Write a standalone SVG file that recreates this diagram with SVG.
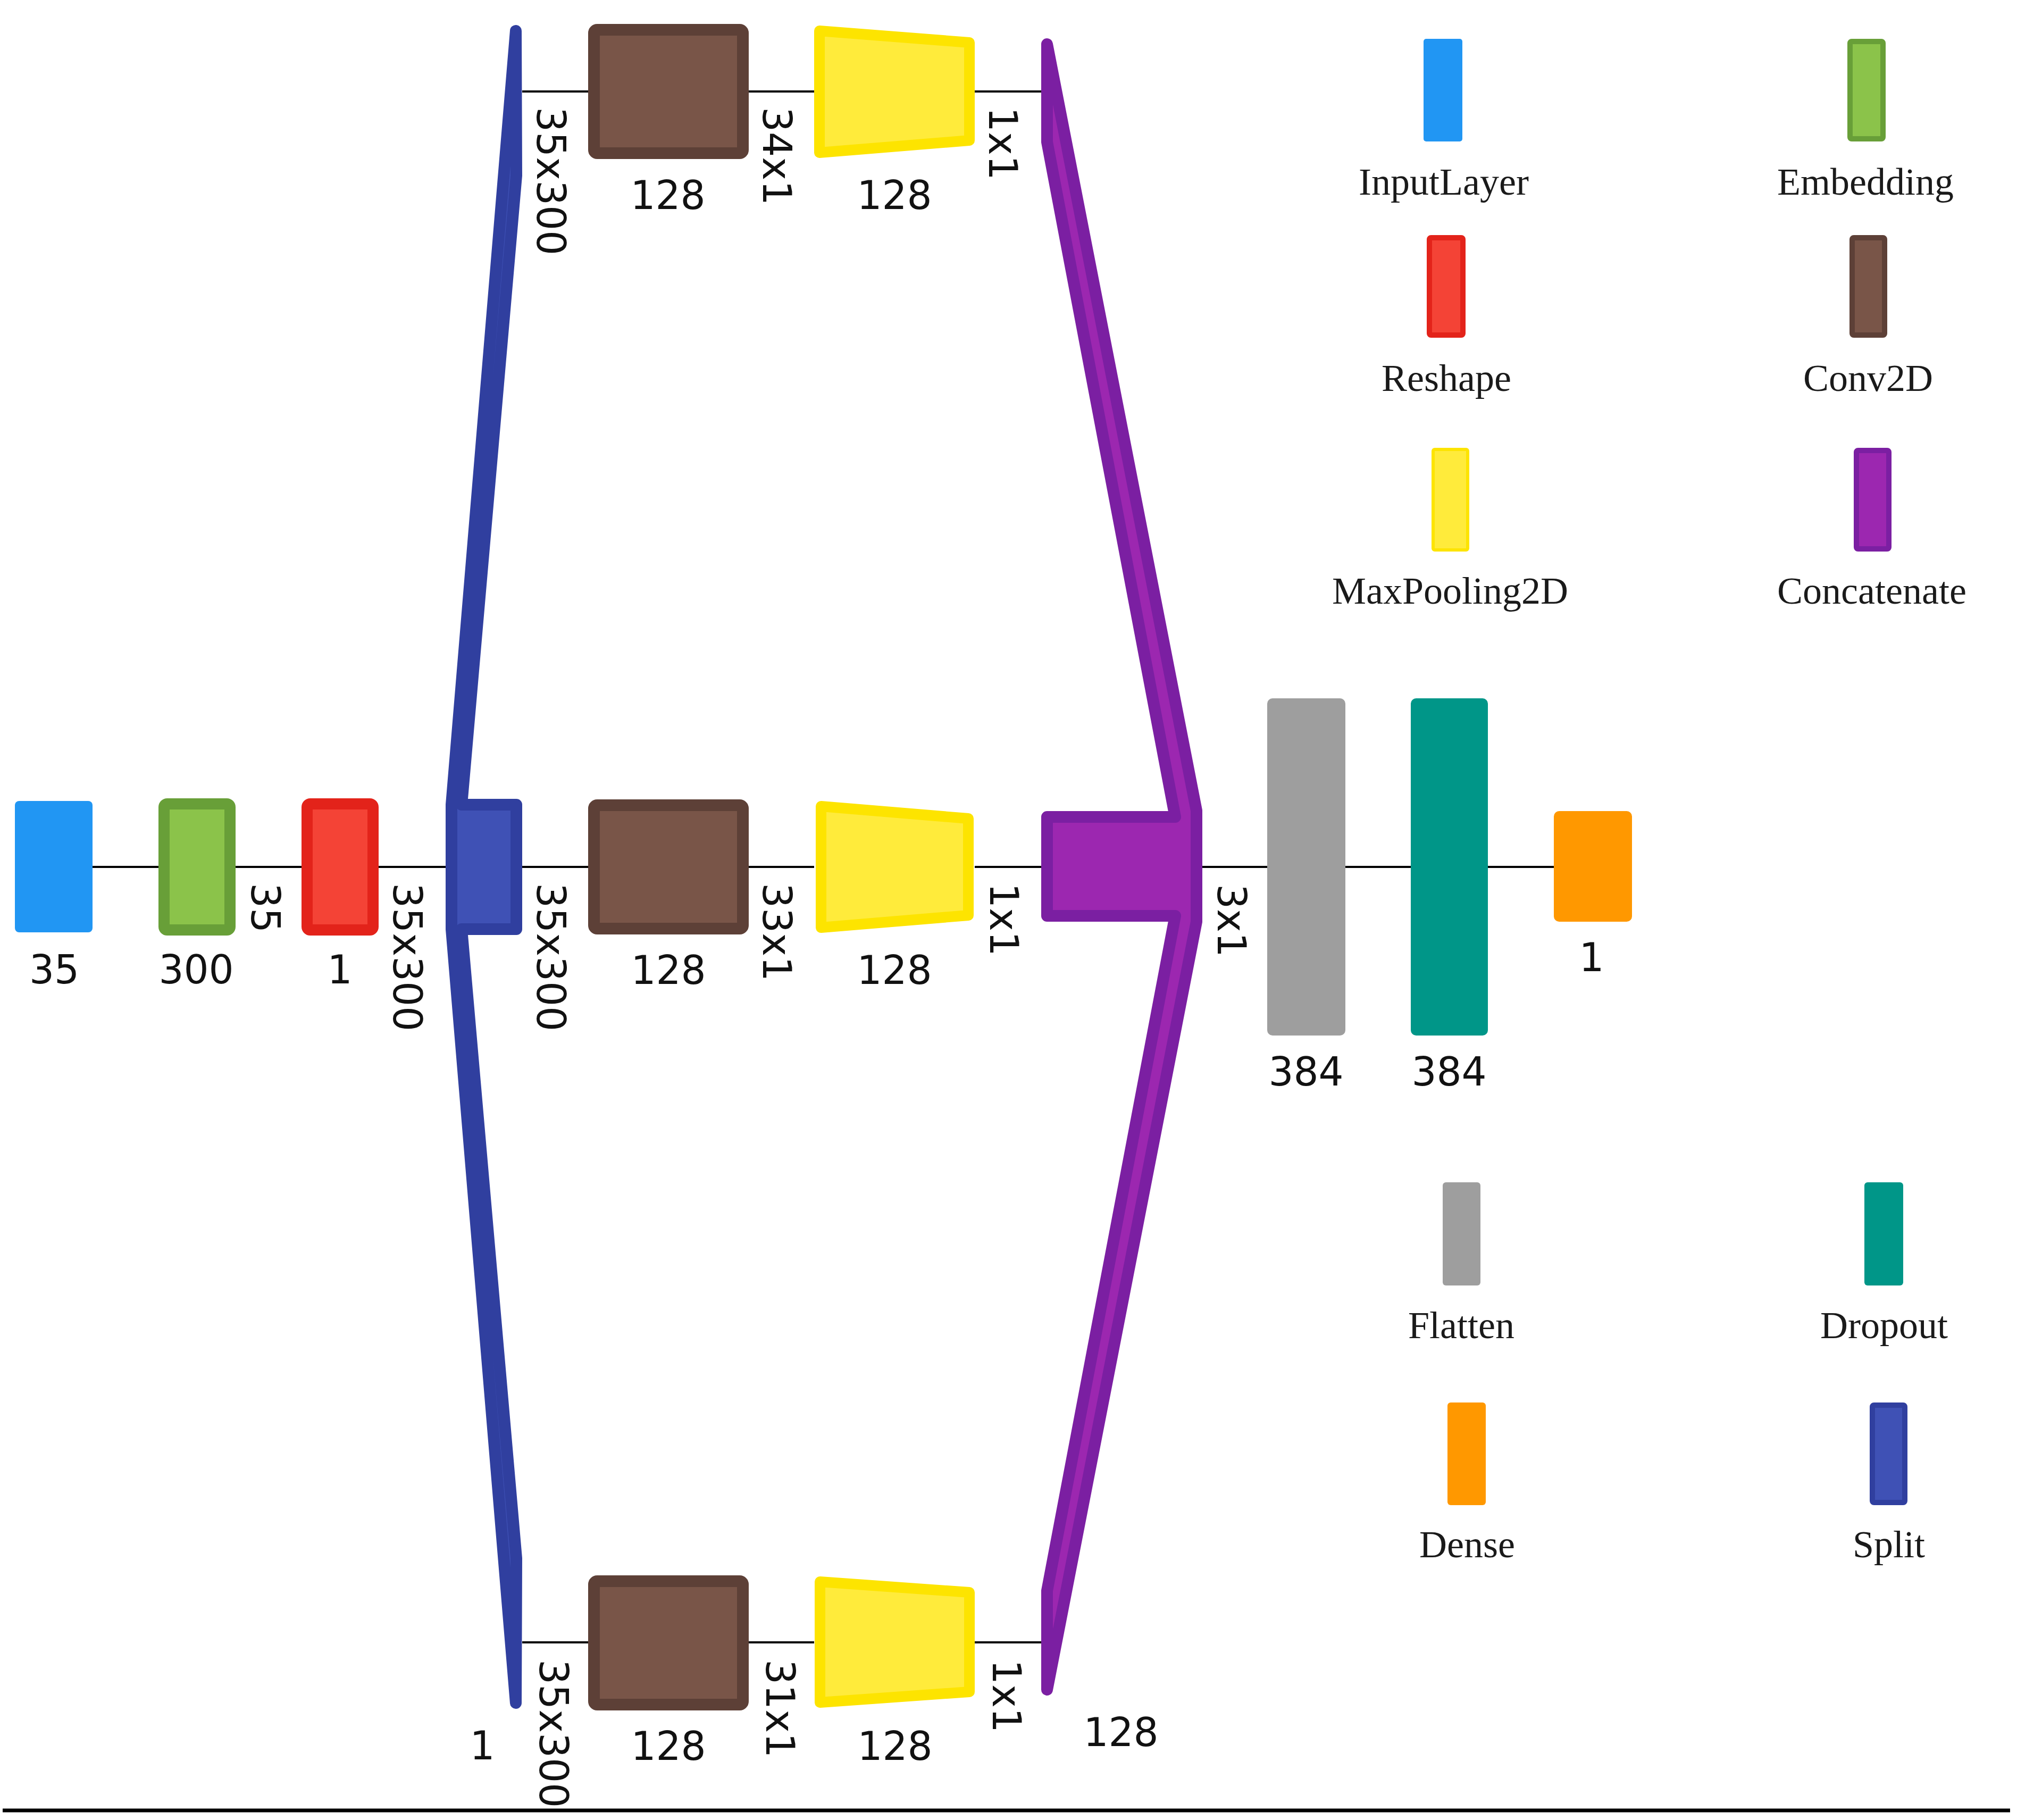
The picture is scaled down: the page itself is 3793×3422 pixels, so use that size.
<svg xmlns="http://www.w3.org/2000/svg" width="3793" height="3422" viewBox="0 0 3793 3422">
<style>
.bg{fill:#ffffff}
.conn line{stroke:#000;stroke-width:4}
.lbl{font-family:"DejaVu Sans",sans-serif;font-size:74px;fill:#111}
.mid{text-anchor:middle}
.leg{font-family:"Liberation Serif","Times New Roman",serif;font-size:72px;fill:#1a1a1a;text-anchor:middle}
.input{fill:#2196F3}
.emb{fill:#8BC34A;stroke:#689F38;stroke-width:21}
.resh{fill:#F44336;stroke:#E3231A;stroke-width:21}
.split{fill:#3F51B5;stroke:#303F9F;stroke-width:22;stroke-linejoin:round}
.conv{fill:#795548;stroke:#5D4037;stroke-width:22}
.pool{fill:#FFEB3B;stroke:#FDE400;stroke-width:20;stroke-linejoin:round}
.concat{fill:#9C27B0;stroke:#7B1FA2;stroke-width:22;stroke-linejoin:round}
.flat{fill:#9E9E9E}
.drop{fill:#009688}
.dense{fill:#FF9800}
.lemb{fill:#8BC34A;stroke:#689F38;stroke-width:10}
.lresh{fill:#F44336;stroke:#E3231A;stroke-width:10}
.lconv{fill:#795548;stroke:#5D4037;stroke-width:10}
.lpool{fill:#FFEB3B;stroke:#FDE400;stroke-width:6}
.lconcat{fill:#9C27B0;stroke:#7B1FA2;stroke-width:10}
.lsplit{fill:#3F51B5;stroke:#303F9F;stroke-width:10}
</style>
<rect class="bg" x="0" y="0" width="3793" height="3422"/>

<g id="connectors" class="conn">
<line x1="174" y1="1630" x2="298" y2="1630"/>
<line x1="443" y1="1630" x2="567" y2="1630"/>
<line x1="712" y1="1630" x2="838" y2="1630"/>
<line x1="982" y1="1630" x2="1106" y2="1630"/>
<line x1="1408" y1="1630" x2="1531" y2="1630"/>
<line x1="1833" y1="1630" x2="1958" y2="1630"/>
<line x1="2261" y1="1630" x2="2383" y2="1630"/>
<line x1="2530" y1="1630" x2="2653" y2="1630"/>
<line x1="2798" y1="1630" x2="2922" y2="1630"/>
<line x1="982" y1="172" x2="1106" y2="172"/>
<line x1="1408" y1="172" x2="1531" y2="172"/>
<line x1="1833" y1="172" x2="1958" y2="172"/>
<line x1="982" y1="3088" x2="1106" y2="3088"/>
<line x1="1408" y1="3088" x2="1531" y2="3088"/>
<line x1="1833" y1="3088" x2="1958" y2="3088"/>
</g>

<g id="input">
<rect class="input" x="28" y="1506" width="146" height="247" rx="8"/>
<text class="lbl mid" x="102" y="1849">35</text>
</g>

<g id="embedding">
<rect class="emb" x="308.5" y="1511.5" width="124" height="237" rx="6"/>
<text class="lbl mid" x="369" y="1849">300</text>
<text class="lbl" transform="translate(473,1660) rotate(90)">35</text>
</g>

<g id="reshape">
<rect class="resh" x="577.5" y="1511.5" width="124" height="237" rx="6"/>
<text class="lbl mid" x="639" y="1849">1</text>
<text class="lbl" transform="translate(740,1660) rotate(90)">35x300</text>
</g>

<g id="split">
<polygon class="split" points="970,58 971,330 868,1513 971,1513 971,1747 868,1747 971,2930 970,3202 849,1747 849,1513"/>
<text class="lbl mid" x="907" y="3308">1</text>
<text class="lbl" transform="translate(1010,201) rotate(90)">35x300</text>
<text class="lbl" transform="translate(1010,1660) rotate(90)">35x300</text>
<text class="lbl" transform="translate(1015,3120) rotate(90)">35x300</text>
</g>

<g id="conv-top">
<rect class="conv" x="1117" y="56" width="280" height="232" rx="6"/>
<text class="lbl mid" x="1256" y="393">128</text>
<text class="lbl" transform="translate(1435,201) rotate(90)">34x1</text>
</g>
<g id="conv-mid">
<rect class="conv" x="1117" y="1514" width="280" height="232" rx="6"/>
<text class="lbl mid" x="1257" y="1850">128</text>
<text class="lbl" transform="translate(1435,1660) rotate(90)">33x1</text>
</g>
<g id="conv-bot">
<rect class="conv" x="1117" y="2973" width="280" height="232" rx="6"/>
<text class="lbl mid" x="1257" y="3309">128</text>
<text class="lbl" transform="translate(1441,3120) rotate(90)">31x1</text>
</g>

<g id="pool-top">
<polygon class="pool" points="1541,58 1823,80 1823,264 1541,287"/>
<text class="lbl mid" x="1682" y="393">128</text>
<text class="lbl" transform="translate(1860,201) rotate(90)">1x1</text>
</g>
<g id="pool-mid">
<polygon class="pool" points="1544,1516 1821,1539 1821,1721 1544,1744"/>
<text class="lbl mid" x="1682" y="1850">128</text>
<text class="lbl" transform="translate(1862,1660) rotate(90)">1x1</text>
</g>
<g id="pool-bot">
<polygon class="pool" points="1542,2974 1823,2994 1823,3181 1542,3201"/>
<text class="lbl mid" x="1683" y="3309">128</text>
<text class="lbl" transform="translate(1867,3120) rotate(90)">1x1</text>
</g>

<g id="concatenate">
<polygon class="concat" points="1969,83 2250,1524 2250,1733 1969,3177 1969,2991 2210,1722 1969,1722 1969,1536 2210,1536 1969,267"/>
<text class="lbl mid" x="2108" y="3283">128</text>
<text class="lbl" transform="translate(2290,1662) rotate(90)">3x1</text>
</g>

<g id="flatten">
<rect class="flat" x="2383" y="1313" width="147" height="634" rx="10"/>
<text class="lbl mid" x="2456" y="2041">384</text>
</g>
<g id="dropout">
<rect class="drop" x="2653" y="1313" width="145" height="634" rx="10"/>
<text class="lbl mid" x="2725" y="2041">384</text>
</g>
<g id="dense">
<rect class="dense" x="2922" y="1525" width="147" height="208" rx="10"/>
<text class="lbl mid" x="2993" y="1826">1</text>
</g>

<g id="legend">
<rect class="input" x="2677" y="73" width="73" height="193" rx="5"/>
<text class="leg" x="2715" y="366">InputLayer</text>
<rect class="lemb" x="3479" y="78" width="62" height="183" rx="3"/>
<text class="leg" x="3508" y="366">Embedding</text>
<rect class="lresh" x="2688" y="447" width="63" height="183" rx="3"/>
<text class="leg" x="2720" y="735">Reshape</text>
<rect class="lconv" x="3483" y="447" width="61" height="183" rx="3"/>
<text class="leg" x="3513" y="735">Conv2D</text>
<rect class="lpool" x="2695" y="845" width="65" height="189" rx="3"/>
<text class="leg" x="2727" y="1135">MaxPooling2D</text>
<rect class="lconcat" x="3491" y="847" width="61" height="185" rx="3"/>
<text class="leg" x="3520" y="1135">Concatenate</text>
<rect class="flat" x="2713" y="2223" width="71" height="194" rx="6"/>
<text class="leg" x="2748" y="2516">Flatten</text>
<rect class="drop" x="3506" y="2223" width="73" height="194" rx="6"/>
<text class="leg" x="3543" y="2516">Dropout</text>
<rect class="dense" x="2722" y="2637" width="72" height="193" rx="6"/>
<text class="leg" x="2759" y="2928">Dense</text>
<rect class="lsplit" x="3521" y="2642" width="61" height="183" rx="3"/>
<text class="leg" x="3552" y="2928">Split</text>
</g>

<line id="baseline-rule" x1="5" y1="3404" x2="3780" y2="3404" stroke="#000" stroke-width="7"/>
</svg>
